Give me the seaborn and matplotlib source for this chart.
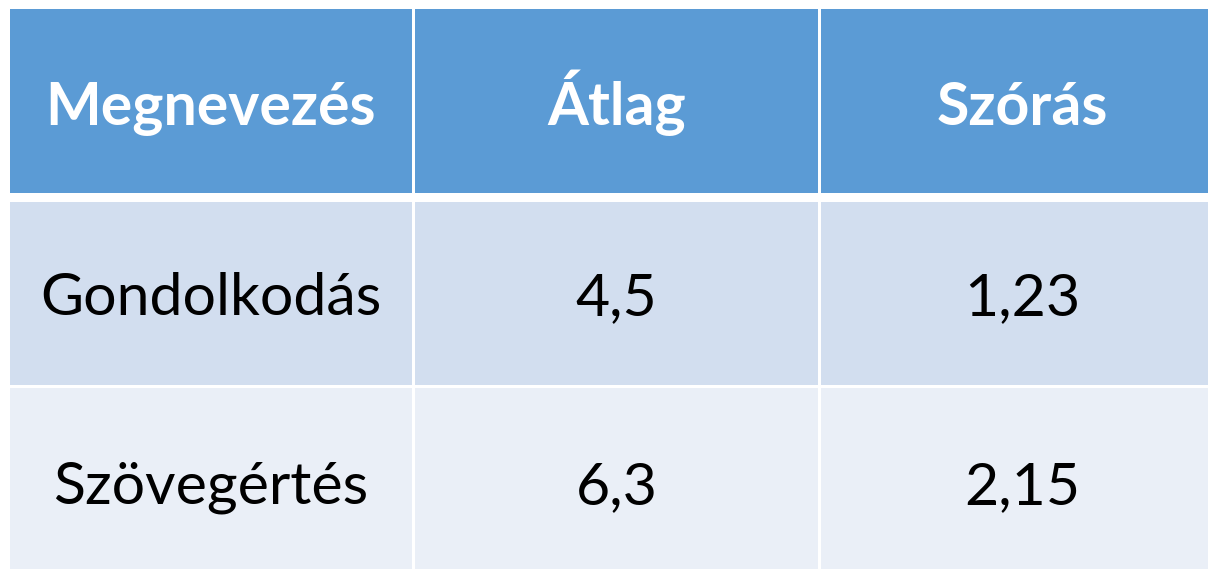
import matplotlib
matplotlib.use("Agg")
import matplotlib.pyplot as plt
from matplotlib.patches import Rectangle
import seaborn as sns

# Data
headers = ["Megnevezés", "Átlag", "Szórás"]
names = ["Gondolkodás", "Szövegértés"]
atlag = ["4,5", "6,3"]
szoras = ["1,23", "2,15"]

sns.set_theme(style="white")
plt.rcParams["font.family"] = ["Lato", "DejaVu Sans"]

W, H = 1208, 569
fig = plt.figure(figsize=(W / 100, H / 100), dpi=100)
ax = fig.add_axes([0, 0, 1, 1])
ax.set_xlim(0, W)
ax.set_ylim(H, 0)
ax.axis("off")

# layout (pixels)
col_x = [(10, 412), (415, 818), (821, 1224)]
row_y = [(9, 193), (202, 385), (388, 572)]
baselines = [125, 315, 504]
fills = ["#5B9BD5", "#D2DEEF", "#EAEFF7"]

rows = [headers] + [[n, a, s] for n, a, s in zip(names, atlag, szoras)]

for r, (y0, y1) in enumerate(row_y):
    for c, (x0, x1) in enumerate(col_x):
        ax.add_patch(Rectangle((x0, y0), x1 - x0, y1 - y0, facecolor=fills[r],
                               edgecolor="none"))
        txt = rows[r][c]
        if r == 0:
            ax.text((x0 + x1) / 2, baselines[r], txt, ha="center", va="baseline",
                    color="white", fontsize=42.5, fontweight="bold")
        else:
            ax.text((x0 + x1) / 2, baselines[r], txt, ha="center", va="baseline",
                    color="black", fontsize=42.5)

fig.savefig("out.png", dpi=100)
